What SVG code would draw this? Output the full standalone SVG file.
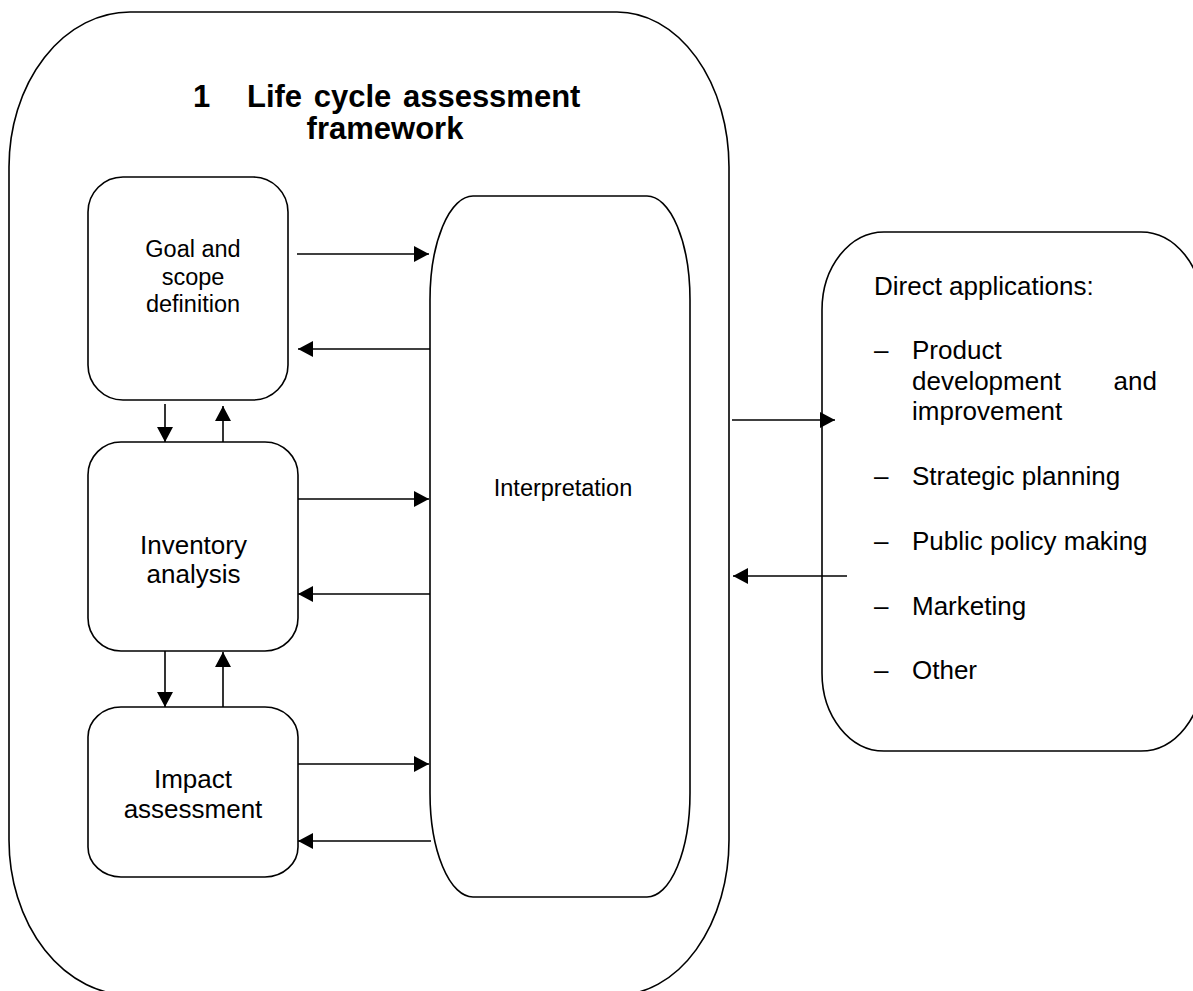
<svg xmlns="http://www.w3.org/2000/svg" width="1193" height="991" viewBox="0 0 1193 991">
<style>
.shape{fill:none;stroke:#000;stroke-width:1.6}
.conn{fill:none;stroke:#000;stroke-width:1.6;marker-end:url(#ah)}
text{font-family:"Liberation Sans",Arial,sans-serif;fill:#000}
.lbl{font-size:26px}
.sm{font-size:23.5px}
.ttl{font-size:31px;font-weight:bold}
.mid{text-anchor:middle}
</style>
<defs>
<marker id="ah" viewBox="0 0 15 16" refX="15" refY="8" markerWidth="15" markerHeight="16" markerUnits="userSpaceOnUse" orient="auto">
<path d="M0,0 L15,8 L0,16 Z" fill="#000"/>
</marker>
</defs>
<rect width="1193" height="991" fill="#fff"/>
<g id="framework">
<path class="shape" d="M130,12 L617,12 A112 155 0 0 1 729,167 L729,840 A112 155 0 0 1 617,995 L131,995 A121 155 0 0 1 9,840 L9,167 A121 155 0 0 1 130,12 Z"/>
<text class="ttl" x="193" y="107">1</text>
<text class="ttl" x="247" y="107" word-spacing="3">Life cycle assessment</text>
<text class="ttl mid" x="385" y="139">framework</text>
</g>
<g id="goal">
<rect class="shape" x="88" y="177" width="200" height="223" rx="35" ry="35"/>
<text class="sm mid" x="193" y="257">Goal and</text>
<text class="sm mid" x="193" y="284.5">scope</text>
<text class="sm mid" x="193" y="312">definition</text>
</g>
<g id="inventory">
<rect class="shape" x="88" y="442" width="210" height="209" rx="33" ry="33"/>
<text class="lbl mid" x="193.5" y="554">Inventory</text>
<text class="lbl mid" x="193.5" y="583">analysis</text>
</g>
<g id="impact">
<rect class="shape" x="88" y="707" width="210" height="170" rx="33" ry="30"/>
<text class="lbl mid" x="193" y="788">Impact</text>
<text class="lbl mid" x="193" y="818">assessment</text>
</g>
<g id="interpretation">
<path class="shape" d="M473,196 L647,196 A43 104 0 0 1 690,300 L690,793 A43 104 0 0 1 647,897 L473,897 A43 104 0 0 1 430,793 L430,300 A43 104 0 0 1 473,196 Z"/>
<text class="sm mid" x="563" y="496">Interpretation</text>
</g>
<g id="applications">
<path class="shape" d="M884,232 L1141,232 A62 78 0 0 1 1203,310 L1203,673 A62 78 0 0 1 1141,751 L884,751 A62 78 0 0 1 822,673 L822,310 A62 78 0 0 1 884,232 Z"/>
<g class="lbl">
<text x="874" y="295">Direct applications:</text>
<text x="874" y="359">–</text>
<text x="912" y="359">Product</text>
<text x="912" y="390">development</text>
<text x="1157" y="390" text-anchor="end">and</text>
<text x="912" y="420">improvement</text>
<text x="874" y="485">–</text>
<text x="912" y="485">Strategic planning</text>
<text x="874" y="550">–</text>
<text x="912" y="550">Public policy making</text>
<text x="874" y="615">–</text>
<text x="912" y="615">Marketing</text>
<text x="874" y="679">–</text>
<text x="912" y="679">Other</text>
</g>
</g>
<g id="connectors">
<path class="conn" d="M297,254 H429"/>
<path class="conn" d="M430,349 H298"/>
<path class="conn" d="M165,404 V442"/>
<path class="conn" d="M223,442 V406"/>
<path class="conn" d="M298,499 H429"/>
<path class="conn" d="M430,594 H298"/>
<path class="conn" d="M165,651 V707"/>
<path class="conn" d="M223,707 V652"/>
<path class="conn" d="M298,764 H429"/>
<path class="conn" d="M431,841 H298"/>
<path class="conn" d="M732,420 H835"/>
<path class="conn" d="M847,576 H733"/>
</g>
</svg>
